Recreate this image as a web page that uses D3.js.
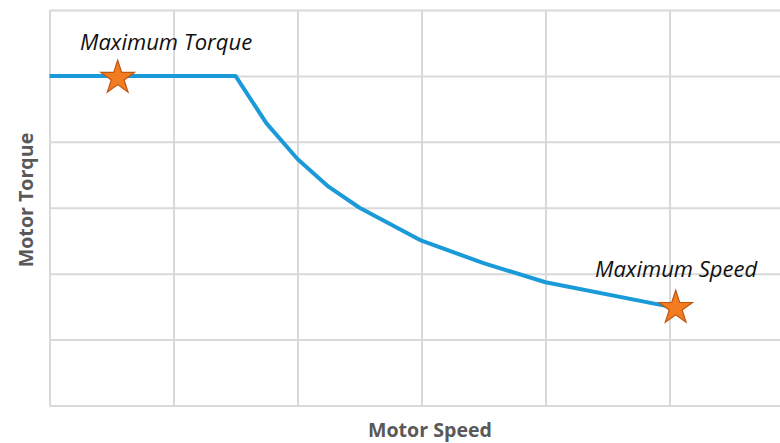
<!DOCTYPE html>
<html><head><meta charset="utf-8">
<script src="https://cdn.jsdelivr.net/npm/d3@7"></script>
<style>
html,body{margin:0;padding:0;background:#fff;}
svg{display:block;}
</style></head>
<body><svg id="c" width="780" height="443"></svg>
<script>
// Data (in grid units)
const speedValues  = [0, 1, 1.5, 1.75, 2, 2.25, 2.5, 3, 3.5, 4, 5];
const torqueValues = [5, 5, 5, 4.28, 3.74, 3.32, 3.0, 2.5, 2.16, 1.87, 1.5];
const xTicks = [0, 1, 2, 3, 4, 5, 6];
const yTicks = [0, 1, 2, 3, 4, 5, 6];
const markerNames = ["Maximum Torque", "Maximum Speed"];
const markerSpeed = [0.55, 5.05];
const markerTorque = [4.97, 1.48];
const xTitle = "Motor Speed";
const yTitle = "Motor Torque";

const svg = d3.select("#c");
const x = d3.scaleLinear().domain([0, 6]).range([49.5, 793.5]);
const y = d3.scaleLinear().domain([0, 6]).range([405.5, 10]);

const gridColor = "#d9d9d9";
const gx = svg.append("g").attr("transform", `translate(0,${y(0)})`)
  .call(d3.axisBottom(x).tickValues(xTicks).tickSize(-(y(0) - y(6))).tickFormat(""));
const gy = svg.append("g").attr("transform", `translate(${x(0)},0)`)
  .call(d3.axisLeft(y).tickValues(yTicks).tickSize(-(x(6) - x(0))).tickFormat(""));
[gx, gy].forEach(g => {
  g.select(".domain").remove();
  g.selectAll(".tick line").attr("stroke", gridColor).attr("stroke-width", 2);
});

// curve
const pts = speedValues.map((s, i) => [s, torqueValues[i]]);
svg.append("path")
  .datum(pts)
  .attr("fill", "none")
  .attr("stroke", "#1a9ad8")
  .attr("stroke-width", 4)
  .attr("stroke-linejoin", "round")
  .attr("d", d3.line().x(d => x(d[0])).y(d => y(d[1])));

// star markers
const star = d3.symbol().type(d3.symbolStar).size(350);
markerSpeed.forEach((s, i) => {
  svg.append("path")
    .attr("d", star())
    .attr("transform", `translate(${x(s)},${y(markerTorque[i])})`)
    .attr("fill", "#f47c20")
    .attr("stroke", "#c0560f")
    .attr("stroke-width", 1.2);
});

// marker labels
const labelFont = "'Open Sans', sans-serif";
svg.append("text").text(markerNames[0])
  .attr("x", 80).attr("y", 50)
  .attr("font-family", labelFont).attr("font-style", "italic")
  .attr("font-size", 22).attr("fill", "#111");
svg.append("text").text(markerNames[1])
  .attr("x", 595).attr("y", 277)
  .attr("font-family", labelFont).attr("font-style", "italic")
  .attr("font-size", 22).attr("fill", "#111");

// axis titles
svg.append("text").text(xTitle)
  .attr("x", 430).attr("y", 437)
  .attr("text-anchor", "middle")
  .attr("font-family", labelFont).attr("font-weight", "bold")
  .attr("font-size", 19.6).attr("fill", "#595959");
svg.append("text").text(yTitle)
  .attr("transform", "translate(33,200) rotate(-90)")
  .attr("text-anchor", "middle")
  .attr("font-family", labelFont).attr("font-weight", "bold")
  .attr("font-size", 19.6).attr("fill", "#595959");
</script>
</body></html>
